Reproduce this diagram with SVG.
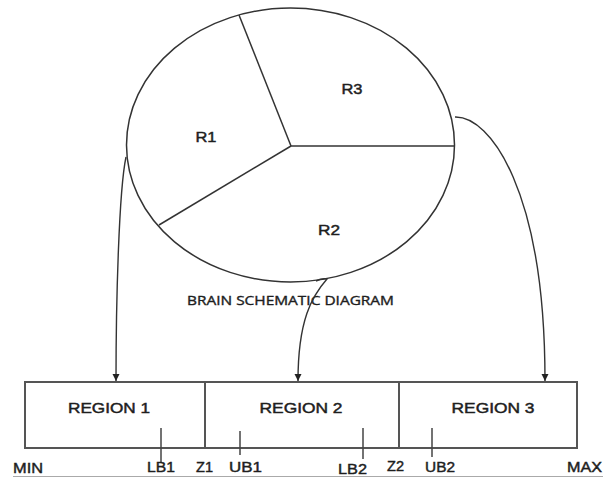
<svg xmlns="http://www.w3.org/2000/svg" width="603" height="481" viewBox="0 0 603 481">
<style>
.t{font-family:"Liberation Sans",Arial,sans-serif;font-size:14px;fill:#1e1e1e;stroke:#1e1e1e;stroke-width:0.45;}
.lbl{font-family:"Liberation Sans",Arial,sans-serif;font-size:15px;fill:#1e1e1e;stroke:#1e1e1e;stroke-width:0.45;}
.cap{font-family:"Open Sans","Noto Sans",sans-serif;font-size:12px;fill:#1e1e1e;stroke:#1e1e1e;stroke-width:0.35;}
.ln{fill:none;stroke:#333;stroke-width:1.5;}
.bx{fill:none;stroke:#555;stroke-width:2;}
.tk{stroke:#444;stroke-width:1.5;}
.cn{fill:none;stroke:#333;stroke-width:1.4;}
</style>
<defs>
<marker id="ah" markerWidth="8" markerHeight="8" refX="7" refY="4" orient="auto" markerUnits="userSpaceOnUse">
<path d="M0,0.5 L7,4 L0,7.5 Z" fill="#222"/>
</marker>
</defs>
<rect width="603" height="481" fill="#fff"/>
<g id="brain">
<ellipse class="ln" cx="290.5" cy="145" rx="164" ry="137"/>
<line class="ln" x1="291" y1="146" x2="239" y2="15"/>
<line class="ln" x1="291" y1="146" x2="454" y2="146"/>
<line class="ln" x1="291" y1="146" x2="159" y2="225"/>
</g>
<g id="r1"><text class="t" x="206" y="142" text-anchor="middle" textLength="21" lengthAdjust="spacingAndGlyphs">R1</text></g>
<g id="r2"><text class="t" x="329" y="235" text-anchor="middle" textLength="22" lengthAdjust="spacingAndGlyphs">R2</text></g>
<g id="r3"><text class="t" x="352" y="94" text-anchor="middle" textLength="21" lengthAdjust="spacingAndGlyphs">R3</text></g>
<g id="caption"><text class="cap" x="187" y="305" textLength="207" lengthAdjust="spacingAndGlyphs">BRAIN SCHEMATIC DIAGRAM</text></g>
<g id="connectors">
<path class="cn" d="M126,157 C119,190 116,300 116,381" marker-end="url(#ah)"/>
<path class="cn" d="M316,281 Q322,278 327,279 C312,296 298,320 298,381" marker-end="url(#ah)"/>
<path class="cn" d="M455,117 C490,116 545,190 545,381" marker-end="url(#ah)"/>
</g>
<g id="region1">
<rect class="bx" x="25" y="382" width="180" height="66"/>
<text class="t" x="109" y="413" text-anchor="middle" textLength="82" lengthAdjust="spacingAndGlyphs">REGION 1</text>
</g>
<g id="region2">
<rect class="bx" x="205" y="382" width="194" height="66"/>
<text class="t" x="301" y="413" text-anchor="middle" textLength="83" lengthAdjust="spacingAndGlyphs">REGION 2</text>
</g>
<g id="region3">
<rect class="bx" x="399" y="382" width="178" height="66"/>
<text class="t" x="493" y="413" text-anchor="middle" textLength="83" lengthAdjust="spacingAndGlyphs">REGION 3</text>
</g>
<g id="ticks">
<line class="tk" x1="161" y1="428" x2="161" y2="463"/>
<line class="tk" x1="240" y1="431" x2="240" y2="455"/>
<line class="tk" x1="363" y1="428" x2="363" y2="459"/>
<line class="tk" x1="432" y1="428" x2="432" y2="457"/>
</g>
<g id="axis">
<line x1="13" y1="476.5" x2="603" y2="476.5" stroke="#aaa" stroke-width="1"/>
<text class="lbl" x="13" y="473" textLength="30" lengthAdjust="spacingAndGlyphs">MIN</text>
<text class="lbl" x="147" y="472" textLength="28" lengthAdjust="spacingAndGlyphs">LB1</text>
<text class="lbl" x="196" y="472" textLength="17" lengthAdjust="spacingAndGlyphs">Z1</text>
<text class="lbl" x="229" y="472" textLength="33" lengthAdjust="spacingAndGlyphs">UB1</text>
<text class="lbl" x="338" y="474" textLength="29" lengthAdjust="spacingAndGlyphs">LB2</text>
<text class="lbl" x="387" y="471" textLength="17" lengthAdjust="spacingAndGlyphs">Z2</text>
<text class="lbl" x="425" y="472" textLength="30" lengthAdjust="spacingAndGlyphs">UB2</text>
<text class="lbl" x="567" y="472" textLength="35" lengthAdjust="spacingAndGlyphs">MAX</text>
</g>
</svg>
